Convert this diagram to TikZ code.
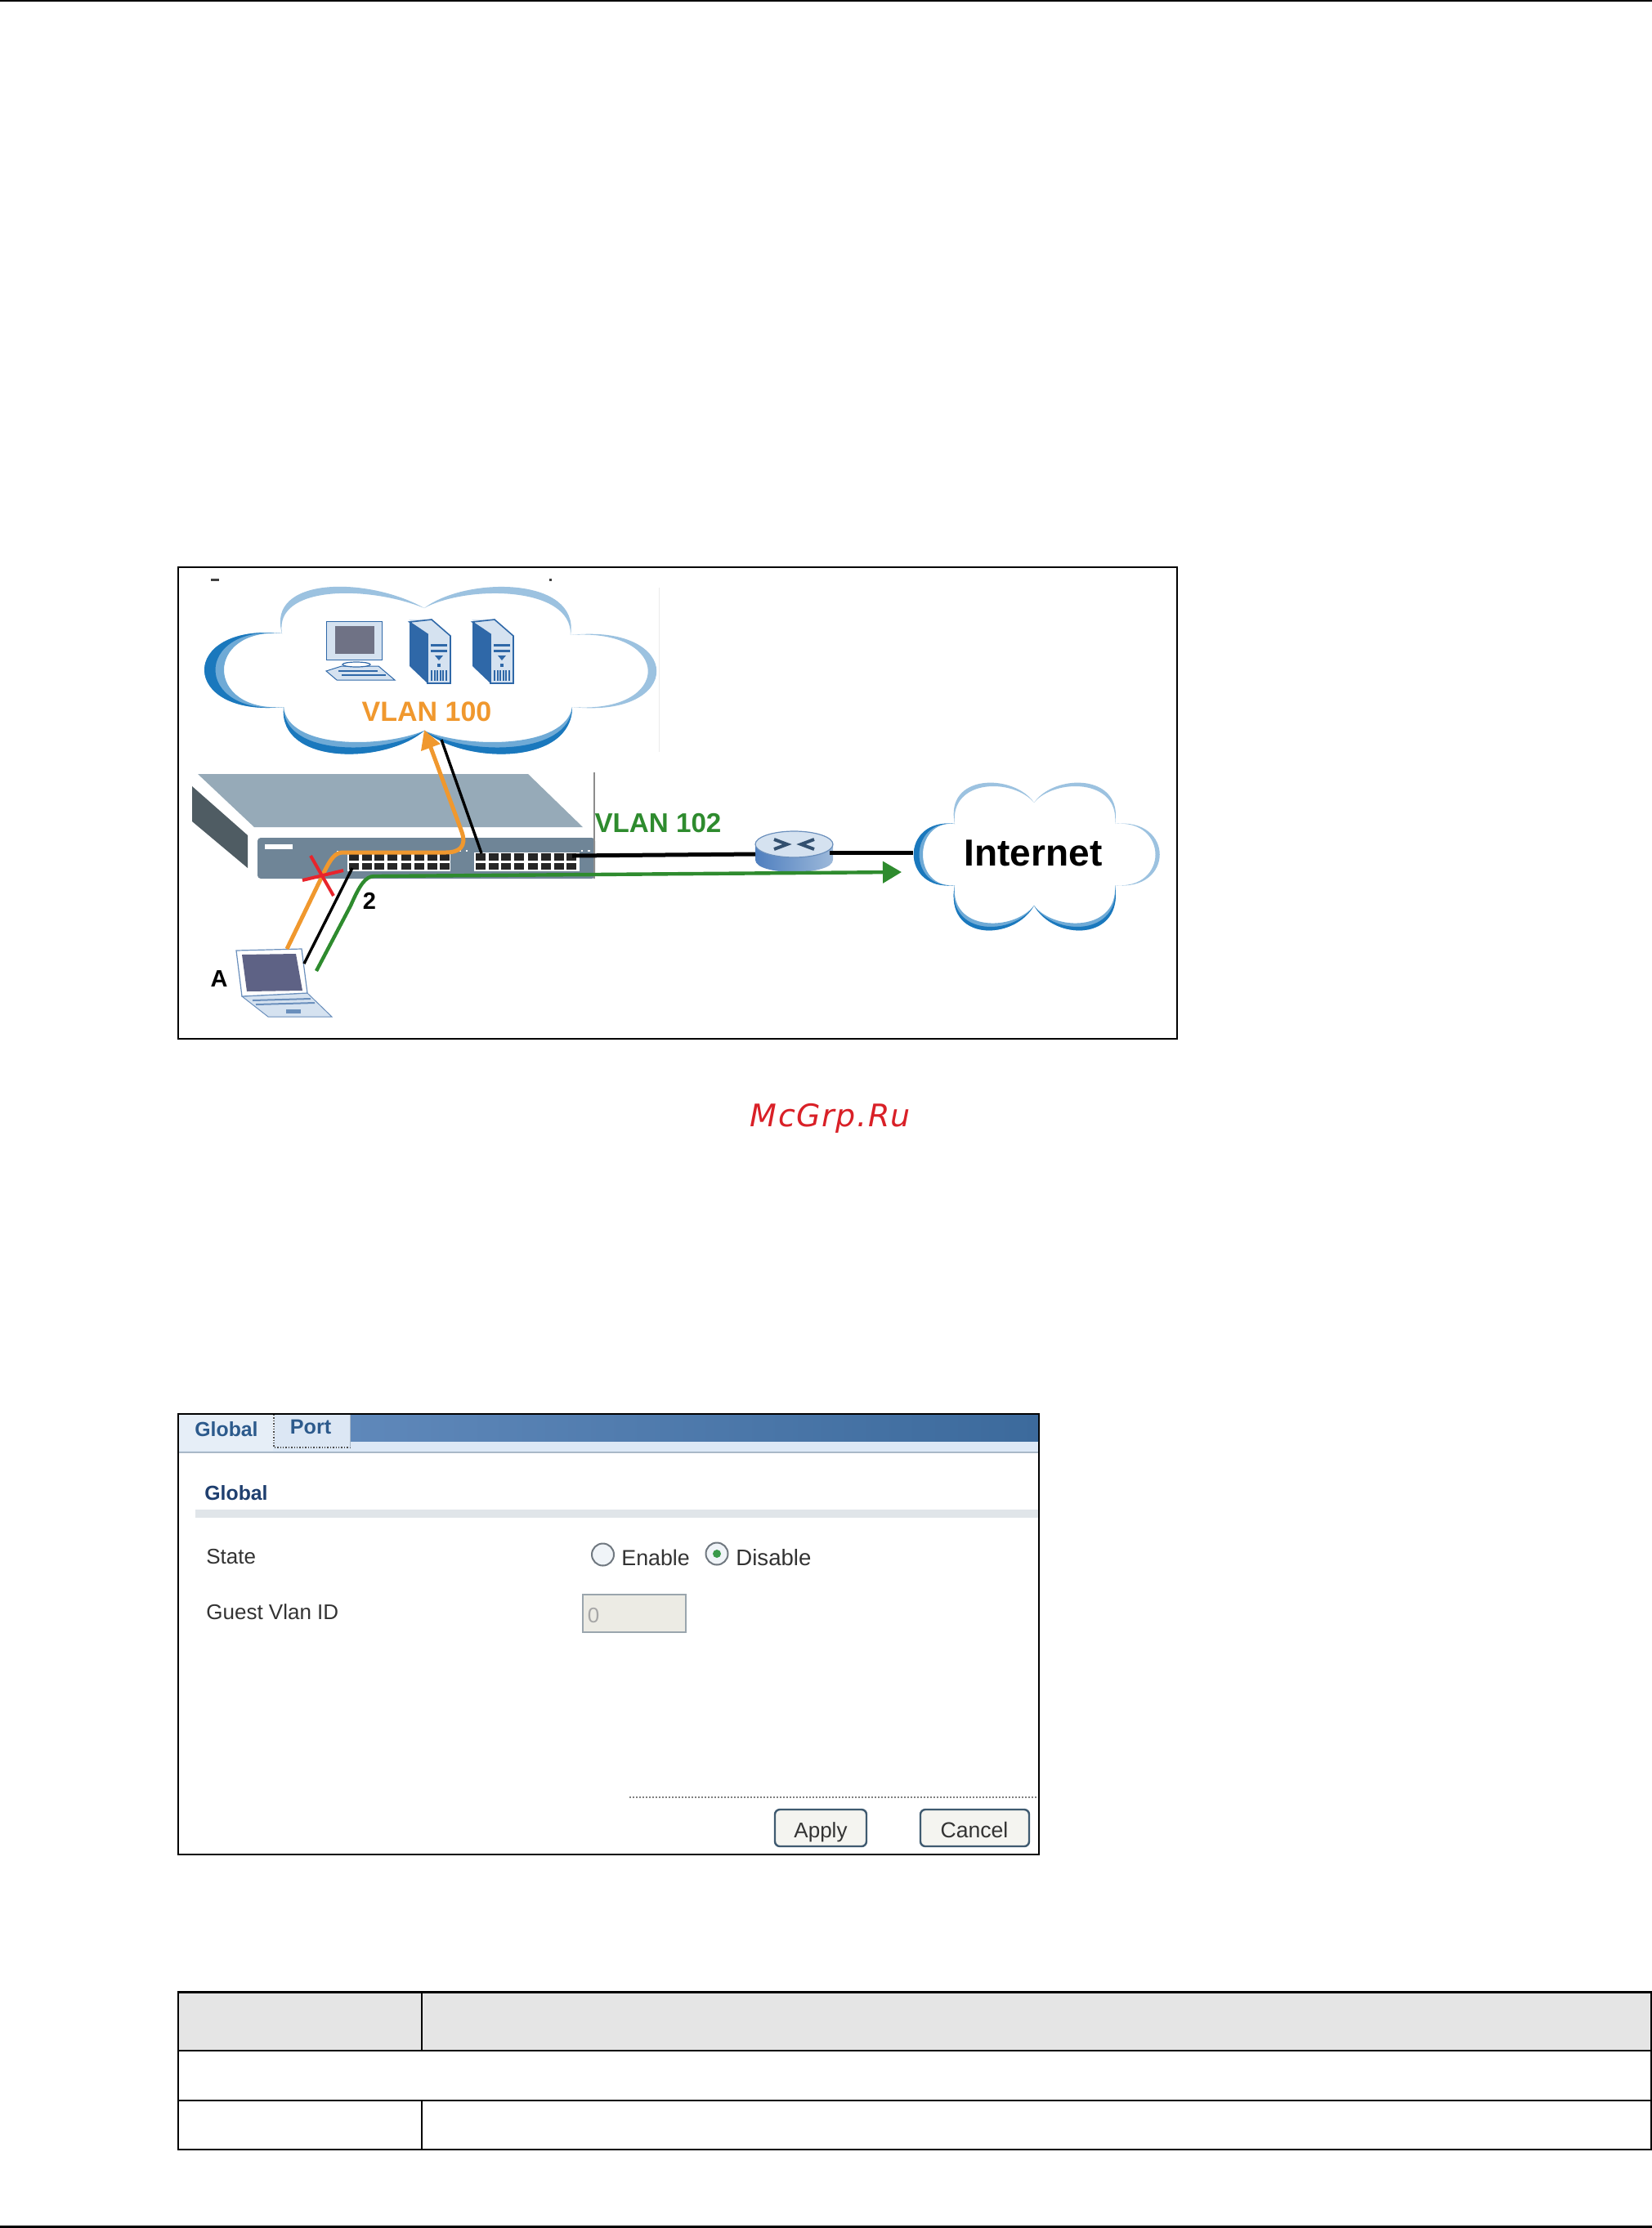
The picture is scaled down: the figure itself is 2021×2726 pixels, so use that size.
\documentclass[tikz,border=0pt]{standalone}
\usepackage{fontspec}
\setmainfont{Liberation Sans}
\newfontfamily\wmfont[LetterSpace=4]{DejaVu Sans}
\usetikzlibrary{arrows.meta}
\definecolor{orgc}{HTML}{F0982E}
\definecolor{grnc}{HTML}{2E8B2E}
\definecolor{cdark}{HTML}{1A78BD}
\definecolor{cmid}{HTML}{6FAAD6}
\definecolor{clight}{HTML}{9CC2E0}
\definecolor{srvblue}{HTML}{2F68A8}
\definecolor{srvpale}{HTML}{D5E2F0}
\definecolor{navy}{HTML}{1F3F6F}
\definecolor{tabtxt}{HTML}{2C5A8C}
\definecolor{uitxt}{HTML}{333333}
\definecolor{swtop}{HTML}{96AAB8}
\definecolor{swside}{HTML}{4F5C63}
\definecolor{swfront}{HTML}{6F8597}
\definecolor{pcscreen}{HTML}{6F7285}
\definecolor{lapscreen}{HTML}{5E6285}
\definecolor{icline}{HTML}{6A8FBC}
\definecolor{btnline}{HTML}{3F5A70}
\definecolor{btnfill}{HTML}{F4F4F0}
\definecolor{inpfill}{HTML}{ECEBE4}
\definecolor{inpline}{HTML}{9AA5AD}
\definecolor{bandc}{HTML}{E0E5E9}
\definecolor{barl}{HTML}{5F88BA}
\definecolor{barm}{HTML}{5C86B8}
\definecolor{barr}{HTML}{3C6A9C}
\definecolor{stripc}{HTML}{DCE8F6}
\definecolor{stripl}{HTML}{A9B8C8}
\definecolor{tabg}{HTML}{E6EEF7}
\definecolor{tabp}{HTML}{DCE7F4}
\definecolor{redx}{HTML}{E8242C}
\definecolor{wmred}{HTML}{D92027}
\definecolor{rtl}{HTML}{4F7FBF}
\definecolor{rtr}{HTML}{9DB9DA}
\definecolor{rtmark}{HTML}{33506F}
\definecolor{radfill}{HTML}{F0F4F8}
\definecolor{radline}{HTML}{707880}
\definecolor{raddot}{HTML}{3A9A4A}
\newcommand\fpx[1]{\fontsize{#1}{#1}\selectfont}
\newcommand\lobe[7]{\fill[#1] (#2) .. controls (#3) and (#4) .. (#5) .. controls (#7) and (#6) .. (#2) -- cycle;}
\newcommand\srvicon[1]{%
  \begin{scope}[shift={(#1,0)}]
    \fill[srvpale] (500,758) -- (528,758) -- (551,778) -- (551,836) -- (523,836) -- (523,776) -- cycle;
    \fill[srvblue] (501,761) -- (523,776) -- (523,836) -- (501,815) -- cycle;
    \draw[srvblue,line width=.8pt] (501,761) -- (528,758) -- (551,778) -- (551,836) -- (523,836) -- (523,776) -- cycle;
    \fill[srvblue] (527,788) rectangle (547,791);
    \fill[srvblue] (527,795) rectangle (547,798);
    \fill[srvblue] (532,802) -- (542,802) -- (537,808) -- cycle;
    \fill[srvblue] (535,812) rectangle (539,816);
    \foreach \k in {0,...,5}{\fill[srvblue] ({527+\k*3.6},820) rectangle ({529+\k*3.6},833);}
  \end{scope}}
\tikzset{
  x=0.5pt,y=-0.5pt,
  frame/.style={draw=black,line width=1.1pt},
  txt/.style={inner sep=0pt,anchor=base},
  txtl/.style={inner sep=0pt,anchor=base west},
  ui/.style={txtl,text=uitxt,font=\fpx{13}},
  btn/.style={draw=btnline,line width=1.2pt,fill=btnfill,rounded corners=3pt},
  tbl/.style={line width=1.1pt,draw=black},
  tblthin/.style={line width=1pt,draw=black},
}
\begin{document}
\begin{tikzpicture}
\useasboundingbox (0,0) rectangle (2021,2726);
\fill[white] (0,0) rectangle (2021,2726);
% page rules
\fill[black] (0,0) rectangle (2021,2);
\fill[black] (0,2723) rectangle (2021,2726);

% ---------- network figure ----------
\draw[frame] (218,694) rectangle (1440,1271);
\fill[black!75] (258,708) rectangle (268,711);
\fill[black!75] (672,708) rectangle (675,711);
\draw[black!8,line width=.5pt] (806,719) -- (806,920);

% VLAN 100 cloud
\lobe{clight}{345,775}{325,705}{450,705}{519,744}{335,716}{450,716}
\lobe{clight}{519,744}{570,705}{710,705}{698,777}{570,716}{700,716}
\lobe{clight}{698,777}{838,762}{838,880}{700,865}{824,768}{824,874}
\lobe{cmid}{345,775}{218,762}{218,878}{347,865}{250,768}{250,872}
\lobe{cdark}{345,775}{218,762}{218,878}{347,865}{236,764}{236,876}
\lobe{cmid}{347,865}{340,936}{470,936}{519,894}{352,916}{465,916}
\lobe{cdark}{347,865}{340,936}{470,936}{519,894}{346,925}{468,925}
\lobe{cmid}{519,894}{570,936}{700,936}{700,865}{572,916}{692,916}
\lobe{cdark}{519,894}{570,936}{700,936}{700,865}{571,925}{697,925}

% computer icon
\fill[srvpale,draw=srvblue,line width=.5pt] (399,760) rectangle (467,807);
\fill[pcscreen] (410,766) rectangle (458,800);
\fill[srvpale,draw=srvblue,line width=.5pt] (399,821) -- (418,815) -- (463,815) -- (483,832) -- (412,832) -- cycle;
\draw[srvblue,line width=.6pt,fill=white] (436,813) ellipse (17 and 3);
\draw[srvblue,line width=.8pt] (414,821) -- (462,821);
\draw[srvblue,line width=.8pt] (418,826) -- (472,826);
% servers
\srvicon{0}
\srvicon{77}

\node[txt,text=orgc,font=\fpx{17}\bfseries] (v100) at (522,882) {VLAN 100};

% switch
\fill[swtop] (242,947) -- (646,947) -- (713,1012) -- (311,1012) -- cycle;
\fill[swside] (235,962) -- (303,1022) -- (303,1062) -- (235,1005) -- cycle;
\fill[swfront,rounded corners=2pt] (315,1025) rectangle (728,1075);
\fill[white] (324,1033) rectangle (358,1039);
\fill[white] (425,1043) rectangle (551,1066);
\fill[white] (580,1043) rectangle (709,1066);
\foreach \bx in {426,581}{
  \foreach \k in {0,...,7}{
    \fill[black!85] ({\bx+1+\k*15.6+(\k>3)*2},1044) rectangle ({\bx+13+\k*15.6+(\k>3)*2},1053);
    \fill[black!85] ({\bx+1+\k*15.6+(\k>3)*2},1056) rectangle ({\bx+13+\k*15.6+(\k>3)*2},1064);
  }
}
\draw[white,line width=1pt,dash pattern=on 1.2pt off 2pt] (412,1042) -- (422,1042);
\draw[white,line width=1pt,dash pattern=on 1.2pt off 3pt] (553,1041) -- (578,1041);
\draw[white,line width=1pt,dash pattern=on 1.2pt off 3pt] (711,1041) -- (725,1041);
\draw[black!45,line width=.8pt] (727,945) -- (727,1075);

\node[txt,text=grnc,font=\fpx{16.6}\bfseries] (v102) at (805,1018) {VLAN 102};

% router
\shade[left color=rtl,middle color=white,right color=rtr] (924,1033) -- (924,1052) .. controls (924,1072) and (1019,1072) .. (1019,1052) -- (1019,1033) -- cycle;
\fill[srvpale,draw=icline,line width=.6pt] (971.5,1033) ellipse (47.5 and 16);
\draw[rtmark,line width=2pt] (947,1027) -- (963,1033) -- (947,1039);
\draw[rtmark,line width=2pt] (996,1027) -- (980,1033) -- (996,1039);

% Internet cloud
\lobe{clight}{1168,1008}{1155,946}{1240,946}{1265,982}{1162,952}{1240,952}
\lobe{clight}{1265,982}{1290,946}{1375,946}{1364,1008}{1290,952}{1370,952}
\lobe{clight}{1364,1008}{1437,1000}{1437,1091}{1364,1083}{1430,1002}{1430,1089}
\lobe{cmid}{1168,1008}{1101,1000}{1101,1091}{1168,1083}{1116,1003}{1116,1088}
\lobe{cdark}{1168,1008}{1101,1000}{1101,1091}{1168,1083}{1110,1002}{1110,1089}
\lobe{cmid}{1168,1083}{1155,1152}{1240,1152}{1265,1108}{1162,1140}{1240,1140}
\lobe{cdark}{1168,1083}{1155,1152}{1240,1152}{1265,1108}{1158,1146}{1240,1146}
\lobe{cmid}{1265,1108}{1290,1152}{1375,1152}{1364,1083}{1290,1140}{1368,1140}
\lobe{cdark}{1265,1108}{1290,1152}{1375,1152}{1364,1083}{1290,1146}{1371,1146}
\node[txt,font=\fpx{23}\bfseries] (inet) at (1264,1059) {Internet};

% laptop
\fill[srvpale,draw=icline,line width=.5pt] (296,1219) -- (376,1215) -- (406,1244) -- (328,1244) -- cycle;
\fill[white,draw=icline,line width=.6pt] (289,1163) -- (369,1161) -- (376,1215) -- (296,1219) -- cycle;
\fill[lapscreen] (296,1168) -- (362,1167) -- (370,1212) -- (302,1213) -- cycle;
\draw[icline,line width=1pt] (309,1224) -- (380,1222);
\draw[icline,line width=1pt] (313,1229) -- (385,1227);
\fill[icline] (350,1235) rectangle (368,1240);

% connector end points
\coordinate (oa) at (351,1161);
\coordinate (ob) at (397,1066);
\coordinate (oc) at (420,1043);
\coordinate (od) at (545,1043);
\coordinate (oe) at (565,1018);
\coordinate (of) at (519,893);
\coordinate (ka) at (372,1179);
\coordinate (kb) at (431,1062);
\coordinate (ga) at (387,1188);
\coordinate (gb) at (429,1108);
\coordinate (gc) at (458,1072);
\coordinate (gd) at (727,1070);
\coordinate (ge) at (1103,1067);
\coordinate (ma) at (589,1044);
\coordinate (mb) at (540,905);
\coordinate (na) at (700,1047);
\coordinate (nb) at (924,1045);
\coordinate (pa) at (1015,1043);
\coordinate (pb) at (1117,1043);

% connectors
\draw[black,line width=1.7pt] (ka) -- (kb);
\draw[black,line width=1.7pt] (ma) -- (mb);
\draw[black,line width=2.5pt] (na) -- (nb);
\draw[black,line width=2.5pt] (pa) -- (pb);
\draw[grnc,line width=2.2pt,-{Triangle[length=11.5pt,width=13pt]}] (ga) -- (gb) .. controls (440,1083) and (447,1072) .. (gc) -- (gd) -- (ge);
\draw[orgc,line width=2.5pt,-{Triangle[length=11.5pt,width=12pt]}] (oa) -- (ob) .. controls (405,1050) and (410,1043) .. (oc) -- (od) .. controls (562,1043) and (571,1036) .. (oe) -- (of);
\coordinate (xa) at (380,1047);
\coordinate (xb) at (408,1096);
\coordinate (xc) at (370,1077);
\coordinate (xd) at (420,1065);
\draw[redx,line width=2pt] (xa) -- (xb);
\draw[redx,line width=2pt] (xc) -- (xd);

\node[txt,font=\fpx{14.5}\bfseries] (lab2) at (452,1112) {2};
\node[txt,font=\fpx{14.5}\bfseries] (labA) at (268,1207) {A};

% watermark
\node[txt,text=wmred,font=\wmfont\fpx{19}\itshape] (wm) at (1016,1378) {McGrp.Ru};

% ---------- screenshot ----------
\draw[frame] (218,1730) rectangle (1271,2269);
\shade[left color=barl,middle color=barm,right color=barr] (428,1731) rectangle (1270,1764);
\fill[stripc] (219,1764) rectangle (1270,1776);
\fill[stripl] (219,1775.5) rectangle (1270,1778);
\fill[tabg] (219,1731) rectangle (334,1775);
\fill[tabp] (335,1731) rectangle (428,1772);
\draw[black!70,line width=.7pt,densely dotted] (335,1731) -- (335,1771) -- (428,1771);
\draw[stripl,line width=.5pt] (428,1731) -- (428,1771);
\node[txt,text=tabtxt,font=\fpx{12.4}\bfseries] (tabG) at (277,1757) {Global};
\node[txt,text=tabtxt,font=\fpx{12.6}\bfseries] (tabP) at (380,1754) {Port};
\node[txt,text=navy,font=\fpx{12.4}\bfseries] (hG) at (289,1835) {Global};
\fill[bandc] (239,1847) rectangle (1270,1857);
\node[ui] (st) at (252,1913) {State};
\node[ui] (gv) at (252,1981) {Guest Vlan ID};
\node[ui,font=\fpx{13.4}] (en) at (760,1915) {Enable};
\node[ui,font=\fpx{13.8}] (di) at (900,1915) {Disable};
\fill[radfill,draw=radline,line width=1pt] (737.5,1902) circle (13.5);
\fill[radfill,draw=radline,line width=1pt] (877,1901) circle (13.5);
\fill[raddot] (877,1901) circle (5);
\fill[inpfill,draw=inpline,line width=1pt] (713,1951) rectangle (839,1997);
\node[txt,text=black!35,font=\fpx{13}] (zero) at (726,1985) {0};
\draw[black!50,line width=.8pt,dash pattern=on 1pt off 1pt] (770,2199) -- (1270,2199);
\node[btn,minimum width=56pt,minimum height=22.5pt,inner sep=0pt] (bA) at (1004,2236.5) {};
\node[btn,minimum width=66.5pt,minimum height=22.5pt,inner sep=0pt] (bC) at (1192.5,2236.5) {};
\node[txt,text=uitxt,font=\fpx{13}] (tA) at (1004,2248) {Apply};
\node[txt,text=uitxt,font=\fpx{13.3}] (tC) at (1192,2248) {Cancel};

% ---------- table ----------
\fill[black!10] (217,2438) rectangle (2021,2509);
\draw[tbl] (217,2437.5) -- (2021,2437.5);
\draw[tbl] (217,2509) -- (2021,2509);
\draw[tbl] (217,2570) -- (2021,2570);
\draw[tbl] (217,2630) -- (2021,2630);
\draw[tblthin] (217.5,2437) -- (217.5,2631);
\draw[tblthin] (2020,2437) -- (2020,2631);
\draw[tblthin] (516,2437) -- (516,2509);
\draw[tblthin] (516,2570) -- (516,2630);
\end{tikzpicture}
\end{document}
